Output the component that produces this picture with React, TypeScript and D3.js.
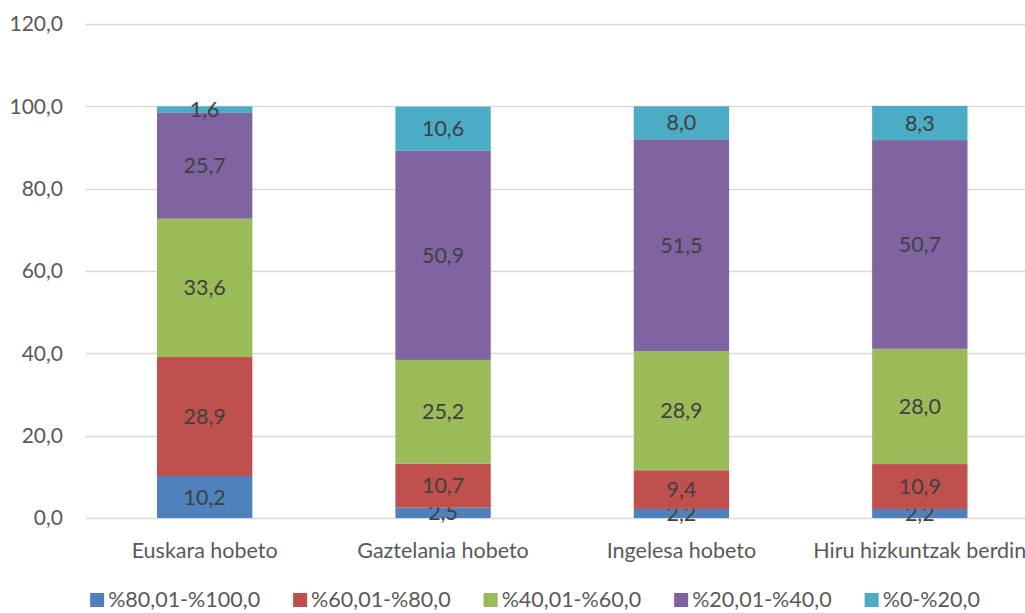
import { useEffect, useRef } from "react";
import * as d3 from "d3";

const categories = [
  "Euskara hobeto",
  "Gaztelania hobeto",
  "Ingelesa hobeto",
  "Hiru hizkuntzak berdin",
];

const seriesNames = [
  "%80,01-%100,0",
  "%60,01-%80,0",
  "%40,01-%60,0",
  "%20,01-%40,0",
  "%0-%20,0",
];

const s80to100 = [10.2, 2.5, 2.2, 2.2];
const s60to80 = [28.9, 10.7, 9.4, 10.9];
const s40to60 = [33.6, 25.2, 28.9, 28.0];
const s20to40 = [25.7, 50.9, 51.5, 50.7];
const s0to20 = [1.6, 10.6, 8.0, 8.3];

const yTicks = [0, 20, 40, 60, 80, 100, 120];

const colors = ["#4F81BD", "#C0504D", "#9BBB59", "#8064A2", "#4BACC6"];

const fmt = (v: number) => v.toFixed(1).replace(".", ",");

function App() {
  const ref = useRef<SVGSVGElement>(null);

  useEffect(() => {
    const svg = d3.select(ref.current);
    svg.selectAll("*").remove();

    const font = "Lato, 'Open Sans', sans-serif";
    const fs = 21.5;
    const values = [s80to100, s60to80, s40to60, s20to40, s0to20];
    const rows = categories.map((c, i) => {
      const row: any = { category: c };
      seriesNames.forEach((s, j) => (row[s] = values[j][i]));
      return row;
    });
    const stacked = d3.stack().keys(seriesNames)(rows);

    const x = d3
      .scaleBand()
      .domain(categories)
      .range([85.5, 1039])
      .paddingInner(0.6)
      .paddingOuter(0.3);
    const y = d3.scaleLinear().domain([0, 120]).range([518, 24]);

    // grid
    svg
      .append("g")
      .selectAll("line")
      .data(yTicks)
      .join("line")
      .attr("x1", 85.5)
      .attr("x2", 1039)
      .attr("y1", (d) => Math.round(y(d)) + 0.5)
      .attr("y2", (d) => Math.round(y(d)) + 0.5)
      .attr("stroke", "#D9D9D9")
      .attr("stroke-width", 1.5);

    svg
      .append("g")
      .selectAll("text")
      .data(yTicks)
      .join("text")
      .attr("x", 63)
      .attr("y", (d) => y(d))
      .attr("dy", "0.35em")
      .attr("text-anchor", "end")
      .attr("font-family", font)
      .attr("font-size", 21)
      .attr("fill", "#595959")
      .text((d) => fmt(d));

    // bars
    const layers = svg
      .append("g")
      .selectAll("g")
      .data(stacked)
      .join("g")
      .attr("fill", (_, i) => colors[i]);

    layers
      .selectAll("rect")
      .data((d) => d)
      .join("rect")
      .attr("x", (d: any) => x(d.data.category)!)
      .attr("width", x.bandwidth())
      .attr("y", (d) => y(d[1]))
      .attr("height", (d) => y(d[0]) - y(d[1]));

    layers
      .selectAll("text")
      .data((d) => d)
      .join("text")
      .attr("x", (d: any) => x(d.data.category)! + x.bandwidth() / 2)
      .attr("y", (d) => (y(d[0]) + y(d[1])) / 2)
      .attr("dy", "0.35em")
      .attr("text-anchor", "middle")
      .attr("font-family", font)
      .attr("font-size", fs)
      .attr("fill", "#404040")
      .text((d) => fmt(d[1] - d[0]));

    // category labels
    svg
      .append("g")
      .selectAll("text")
      .data(categories)
      .join("text")
      .attr("x", (d) => x(d)! + x.bandwidth() / 2)
      .attr("y", 550)
      .attr("dy", "0.35em")
      .attr("text-anchor", "middle")
      .attr("font-family", font)
      .attr("font-size", fs)
      .attr("fill", "#595959")
      .text((d) => d);

    // legend
    const legend = svg.append("g");
    const items = legend
      .selectAll("g")
      .data(seriesNames)
      .join("g");
    items
      .append("rect")
      .attr("width", 14)
      .attr("height", 14)
      .attr("y", 593)
      .attr("fill", (_, i) => colors[i]);
    items
      .append("text")
      .attr("x", 18)
      .attr("y", 599)
      .attr("dy", "0.35em")
      .attr("font-family", font)
      .attr("font-size", fs)
      .attr("fill", "#595959")
      .text((d) => d);

    const gap = 33;
    let cx = 0;
    items.each(function () {
      const g = d3.select(this);
      g.attr("transform", `translate(${cx},0)`);
      const w = (g.select("text").node() as SVGTextElement).getComputedTextLength();
      cx += 18 + w + gap;
    });
    const total = cx - gap;
    legend.attr("transform", `translate(${535 - total / 2},0)`);
  }, []);

  return (
    <svg
      ref={ref}
      width={1025}
      height={613}
      style={{ position: "absolute", left: 0, top: 0, background: "#fff" }}
    />
  );
}

export default App;
